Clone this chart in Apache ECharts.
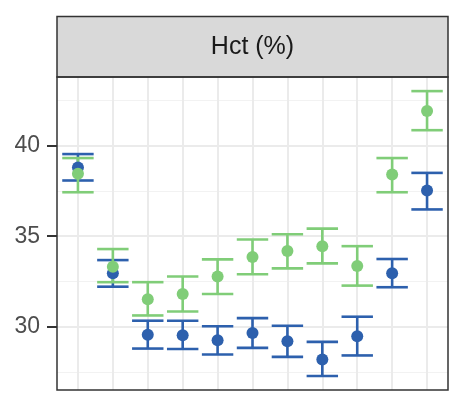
<!DOCTYPE html>
<html>
<head>
<meta charset="utf-8">
<script src="https://cdn.jsdelivr.net/npm/echarts@6/dist/echarts.min.js"></script>
<style>
html,body{margin:0;padding:0;background:#fff;}
#main{width:468px;height:395px;}
</style>
</head>
<body>
<div id="main"></div>
<script>
const panelTitle = 'Hct (%)';
const categories = ['1','2','3','4','5','6','7','8','9','10','11'];
const yTicks = [30, 35, 40];
const yMinorTicks = [27.5, 32.5, 37.5, 42.5];

const blueMean = [38.80, 32.95, 29.56, 29.52, 29.25, 29.65, 29.19, 28.19, 29.47, 32.95, 37.53];
const blueLow  = [38.08, 32.21, 28.79, 28.77, 28.46, 28.83, 28.33, 27.27, 28.41, 32.18, 36.48];
const blueHigh = [39.54, 33.68, 30.33, 30.33, 30.02, 30.47, 30.05, 29.16, 30.55, 33.74, 38.50];

const greenMean = [38.45, 33.31, 31.52, 31.80, 32.77, 33.85, 34.18, 34.45, 33.35, 38.41, 41.92];
const greenLow  = [37.43, 32.46, 30.62, 30.84, 31.81, 32.90, 33.22, 33.50, 32.27, 37.43, 40.86];
const greenHigh = [39.32, 34.29, 32.46, 32.77, 33.72, 34.82, 35.11, 35.42, 34.45, 39.32, 43.02];

const BLUE = '#2d60ad';
const GREEN = '#80cd78';
const FONT = 'Liberation Sans, Arial, sans-serif';

const xIdx = categories.map((c, i) => i);

function errRender(color) {
  return function (params, api) {
    const x = api.value(0);
    const lo = api.coord([x, api.value(1)]);
    const hi = api.coord([x, api.value(2)]);
    const half = api.size([0.9, 0])[0] / 2;
    const style = { stroke: color, lineWidth: 2.6, fill: null };
    return {
      type: 'group',
      children: [
        { type: 'line', shape: { x1: lo[0], y1: lo[1], x2: hi[0], y2: hi[1] }, style: style },
        { type: 'line', shape: { x1: lo[0] - half, y1: lo[1], x2: lo[0] + half, y2: lo[1] }, style: style },
        { type: 'line', shape: { x1: hi[0] - half, y1: hi[1], x2: hi[0] + half, y2: hi[1] }, style: style }
      ]
    };
  };
}

const chart = echarts.init(document.getElementById('main'), null, { renderer: 'canvas' });
const yMin = 26.5, yMax = 43.8;
chart.setOption({
  animation: false,
  backgroundColor: '#ffffff',
  grid: {
    left: 57, right: 20, top: 77, bottom: 5,
    show: true, backgroundColor: '#ffffff', borderColor: '#333333', borderWidth: 0
  },
  graphic: [
    {
      type: 'rect', z: 100,
      shape: { x: 57, y: 16.5, width: 391, height: 60.5 },
      style: { fill: '#d9d9d9', stroke: '#333333', lineWidth: 1.5 }
    },
    {
      type: 'text', z: 101,
      x: 252.5, y: 47,
      style: { text: panelTitle, font: '25px ' + FONT, fill: '#1a1a1a', align: 'center', verticalAlign: 'middle' }
    },
    {
      type: 'rect', z: 100, silent: true,
      shape: { x: 57, y: 77, width: 391, height: 313 },
      style: { fill: null, stroke: '#333333', lineWidth: 1.5 }
    }
  ],
  xAxis: {
    type: 'value', min: -0.6, max: 10.6,
    axisLine: { show: false, onZero: false },
    axisTick: { show: false, customValues: xIdx },
    axisLabel: { show: false, customValues: xIdx },
    splitLine: { show: true, lineStyle: { color: '#ebebeb', width: 2 } }
  },
  yAxis: [
    {
      type: 'value', min: yMin, max: yMax, position: 'left',
      axisLine: { show: false, onZero: false },
      axisTick: { show: true, customValues: yTicks, length: 10, lineStyle: { color: '#333333', width: 2 } },
      axisLabel: { show: true, customValues: yTicks, fontSize: 23, fontFamily: FONT, color: '#4d4d4d', margin: 17 },
      splitLine: { show: true, lineStyle: { color: '#ebebeb', width: 2 } }
    },
    {
      type: 'value', min: yMin, max: yMax, position: 'left',
      axisLine: { show: false, onZero: false },
      axisTick: { show: false, customValues: yMinorTicks },
      axisLabel: { show: false, customValues: yMinorTicks },
      splitLine: { show: true, lineStyle: { color: '#f2f2f2', width: 1.2 } }
    }
  ],
  series: [
    {
      type: 'custom', name: 'blue-err', yAxisIndex: 0,
      renderItem: errRender(BLUE),
      encode: { x: 0, y: [1, 2] },
      data: xIdx.map(i => [i, blueLow[i], blueHigh[i]]),
      z: 2
    },
    {
      type: 'custom', name: 'green-err', yAxisIndex: 0,
      renderItem: errRender(GREEN),
      encode: { x: 0, y: [1, 2] },
      data: xIdx.map(i => [i, greenLow[i], greenHigh[i]]),
      z: 3
    },
    {
      type: 'scatter', name: 'blue', yAxisIndex: 0,
      symbol: 'circle', symbolSize: 12,
      itemStyle: { color: BLUE, opacity: 1 },
      data: xIdx.map(i => [i, blueMean[i]]),
      z: 4
    },
    {
      type: 'scatter', name: 'green', yAxisIndex: 0,
      symbol: 'circle', symbolSize: 12,
      itemStyle: { color: GREEN, opacity: 1 },
      data: xIdx.map(i => [i, greenMean[i]]),
      z: 5
    }
  ]
});
</script>
</body>
</html>
